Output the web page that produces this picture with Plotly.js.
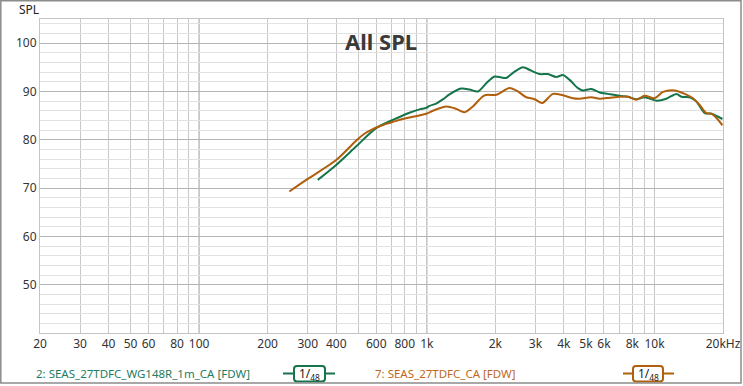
<!DOCTYPE html>
<html>
<head>
<meta charset="utf-8">
<script src="https://cdn.plot.ly/plotly-3.0.1.min.js"></script>
<style>html,body{margin:0;padding:0;background:#fff;}#chart{width:743px;height:386px;}</style>
</head>
<body>
<div id="chart"></div>
<script>
// ---- data ----
const greenName = "2: SEAS_27TDFC_WG148R_1m_CA [FDW]";
const greenFreq = [332, 400, 489, 599, 709, 839, 929, 994, 1028, 1100, 1180, 1258, 1416, 1540, 1676, 1825, 1985, 2124, 2234, 2430, 2642, 2877, 3130, 3404, 3706, 3961, 4240, 4610, 4851, 5280, 5742, 6247, 7031, 7648, 8326, 9055, 10190, 11280, 12490, 13130, 14280, 15290, 16630, 17790, 19890];
const greenSPL  = [71.7, 74.8, 78.6, 82.4, 84.1, 85.6, 86.3, 86.6, 87.0, 87.5, 88.4, 89.4, 90.6, 90.4, 90.0, 91.7, 93.1, 92.9, 92.8, 94.1, 95.0, 94.3, 93.6, 93.6, 93.0, 93.4, 92.4, 90.7, 90.2, 90.5, 89.8, 89.5, 89.1, 88.9, 88.4, 88.8, 88.1, 88.5, 89.5, 88.9, 88.8, 87.9, 85.5, 85.4, 84.3];

const orangeName = "7: SEAS_27TDFC_CA [FDW]";
const orangeFreq = [249, 300, 400, 489, 530, 579, 620, 663, 720, 784, 994, 1063, 1217, 1347, 1465, 1593, 1793, 2019, 2310, 2512, 2735, 2974, 3216, 3580, 3961, 4384, 4691, 5280, 5742, 6356, 7031, 7648, 8326, 9055, 10020, 10900, 12270, 13580, 14770, 15800, 16910, 17790, 18710, 19890];
const orangeSPL  = [69.3, 71.9, 75.8, 79.8, 81.2, 82.2, 82.8, 83.3, 83.8, 84.3, 85.4, 86.0, 86.9, 86.4, 85.7, 86.9, 89.2, 89.3, 90.7, 90.0, 88.8, 88.4, 87.6, 89.5, 89.2, 88.6, 88.5, 88.8, 88.5, 88.7, 88.9, 88.9, 88.3, 89.1, 88.6, 89.9, 90.2, 89.5, 88.6, 87.2, 85.5, 85.4, 84.5, 83.0];

const xTickVals = [20, 30, 40, 50, 60, 80, 100, 200, 300, 400, 600, 800, 1000, 2000, 3000, 4000, 5000, 6000, 8000, 10000, 20000];
const xTickText = ["20", "30", "40", "50", "60", "80", "100", "200", "300", "400", "600", "800", "1k", "2k", "3k", "4k", "5k", "6k", "8k", "10k", "20kHz"];
const decadeLines = [100, 1000, 10000];
const yTickVals = [50, 60, 70, 80, 90, 100];
const chartTitle = "All SPL";
const yTitle = "SPL";
const smoothLabel = "1/<sub>48</sub>";

// ---- style ----
const GREEN = "#15744a", ORANGE = "#b0600c";
const GREEN_TXT = "#1e7d62", ORANGE_TXT = "#c0671c";
const FONT = "Noto Sans, Open Sans, sans-serif";
const W = 743, H = 386, ML = 40, MR = 20, MT = 19, MB = 53;
const PW = W - ML - MR, PH = H - MT - MB;
const px = p => (p - ML) / PW;
const py = p => (H - MB - p) / PH;

function roundRect(x0, y0, x1, y1, r) {
  const X = px, Y = py;
  return `M${X(x0 + r)},${Y(y0)} L${X(x1 - r)},${Y(y0)} Q${X(x1)},${Y(y0)} ${X(x1)},${Y(y0 + r)} ` +
         `L${X(x1)},${Y(y1 - r)} Q${X(x1)},${Y(y1)} ${X(x1 - r)},${Y(y1)} L${X(x0 + r)},${Y(y1)} ` +
         `Q${X(x0)},${Y(y1)} ${X(x0)},${Y(y1 - r)} L${X(x0)},${Y(y0 + r)} Q${X(x0)},${Y(y0)} ${X(x0 + r)},${Y(y0)} Z`;
}

const traces = [
  {x: greenFreq, y: greenSPL, name: greenName, type: "scatter", mode: "lines",
   line: {color: GREEN, width: 2, shape: "spline", smoothing: 0.8}},
  {x: orangeFreq, y: orangeSPL, name: orangeName, type: "scatter", mode: "lines",
   line: {color: ORANGE, width: 2, shape: "spline", smoothing: 0.8}}
];

const shapes = [];
decadeLines.forEach(v => shapes.push({type: "line", xref: "x", yref: "paper", x0: v, x1: v, y0: 0, y1: 1,
  line: {color: "#8a8a8a", width: 1}, layer: "below"}));
// legend samples
[[GREEN, 283, 335, 294, 325], [ORANGE, 623, 674, 633, 663]].forEach(([c, l0, l1, b0, b1]) => {
  shapes.push({type: "line", xref: "paper", yref: "paper", x0: px(l0), x1: px(l1), y0: py(373.5), y1: py(373.5),
    line: {color: c, width: 2}});
  shapes.push({type: "path", xref: "paper", yref: "paper", path: roundRect(b0, 366, b1, 381.5, 3),
    fillcolor: "#ffffff", line: {color: c, width: 2}});
});
// outer frame
shapes.push({type: "rect", xref: "paper", yref: "paper", x0: px(0.8), x1: px(741), y0: py(0.8), y1: py(383),
  line: {color: "#8c8c8c", width: 1.5}});

const annotations = [
  {text: "<b>" + chartTitle + "</b>", xref: "paper", yref: "paper", x: px(381), y: py(41),
   xanchor: "center", yanchor: "middle", showarrow: false, font: {family: FONT, size: 22, color: "#3a3a3a"}},
  {text: yTitle, xref: "paper", yref: "paper", x: px(28.5), y: py(10),
   xanchor: "center", yanchor: "middle", showarrow: false, font: {family: FONT, size: 12, color: "#222"}},
  {text: greenName, xref: "paper", yref: "paper", x: px(34), y: py(373),
   xanchor: "left", yanchor: "middle", showarrow: false, font: {family: FONT, size: 11.5, color: GREEN_TXT}},
  {text: orangeName, xref: "paper", yref: "paper", x: px(373), y: py(373),
   xanchor: "left", yanchor: "middle", showarrow: false, font: {family: FONT, size: 11.5, color: ORANGE_TXT}},
  {text: smoothLabel, xref: "paper", yref: "paper", x: px(309.5), y: py(374),
   xanchor: "center", yanchor: "middle", showarrow: false, font: {family: FONT, size: 12, color: "#222"}},
  {text: smoothLabel, xref: "paper", yref: "paper", x: px(648), y: py(374),
   xanchor: "center", yanchor: "middle", showarrow: false, font: {family: FONT, size: 12, color: "#222"}}
];

const layout = {
  width: W, height: H,
  margin: {l: ML, r: MR, t: MT, b: MB, pad: 0},
  paper_bgcolor: "#ffffff", plot_bgcolor: "#ffffff",
  showlegend: false,
  font: {family: FONT, size: 12, color: "#333"},
  xaxis: {
    type: "log", range: [Math.log10(20), Math.log10(20000)],
    tickmode: "array", tickvals: xTickVals, ticktext: xTickText,
    showgrid: false, zeroline: false, ticks: "",
    showline: true, mirror: true, linecolor: "#c4c4c4", linewidth: 1,
    tickfont: {family: FONT, size: 12, color: "#333"},
    minor: {dtick: "D1", showgrid: true, gridcolor: "#c8c8c8", gridwidth: 1, ticks: ""}
  },
  yaxis: {
    range: [40, 105], tickmode: "array", tickvals: yTickVals,
    showgrid: true, gridcolor: "#b4b4b4", gridwidth: 1, zeroline: false, ticks: "",
    showline: true, mirror: true, linecolor: "#c4c4c4", linewidth: 1,
    tickfont: {family: FONT, size: 12, color: "#333"},
    minor: {dtick: 2, tick0: 40, showgrid: true, gridcolor: "#e2e2e2", gridwidth: 1, ticks: ""}
  },
  shapes: shapes,
  annotations: annotations
};

Plotly.newPlot("chart", traces, layout, {staticPlot: true, displayModeBar: false});
</script>
</body>
</html>
